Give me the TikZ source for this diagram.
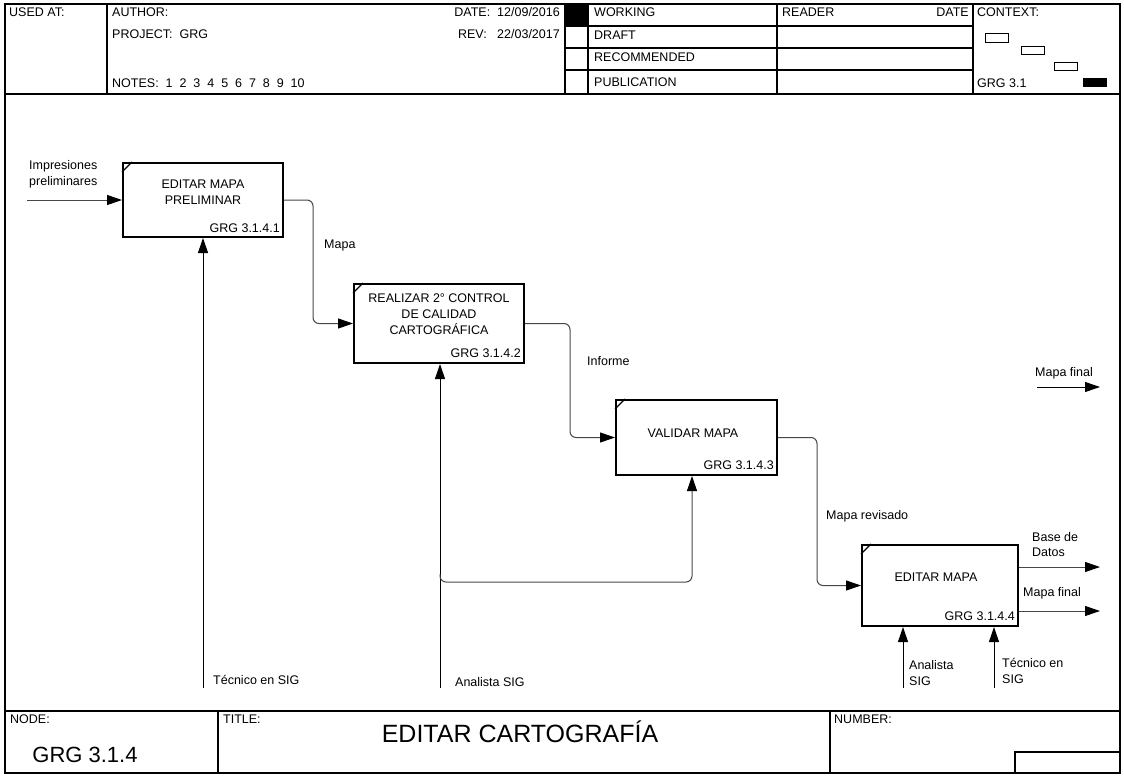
\documentclass[tikz,border=0pt]{standalone}
\usepackage{fontspec}
\setmainfont{Liberation Sans}
\usetikzlibrary{arrows.meta,calc}
\begin{document}
\begin{tikzpicture}[x=1pt,y=-1pt,
  frameline/.style={line width=1.3pt},
  txt/.style={anchor=base west, inner sep=0pt, font=\fontsize{12.5}{14}\selectfont},
  txtr/.style={anchor=base east, inner sep=0pt, font=\fontsize{12.5}{14}\selectfont},
  txtc/.style={anchor=base, inner sep=0pt, font=\fontsize{12.5}{14}\selectfont},
  procbox/.style={draw, line width=2pt, inner sep=0pt},
  tip/.style={-{Triangle[length=15pt,width=10pt,color=black]}},
  flow/.style={line width=1pt, draw=black!72, rounded corners=6pt, tip},
  mech/.style={line width=1pt, draw=black, tip},
  ctxbox/.style={draw, line width=0.8pt}
]
\useasboundingbox (0,0) rectangle (1124,776);
\fill[white] (0,0) rectangle (1124,776);

% ---------- frame ----------
\draw[frameline] (5,4) rectangle (1120,773);
\draw[frameline] (5,94) -- (1120,94);
\draw[frameline] (107,4) -- (107,94);
\draw[frameline] (565,4) -- (565,94);
\draw[frameline] (588,4) -- (588,94);
\draw[frameline] (777,4) -- (777,94);
\draw[frameline] (973,4) -- (973,94);
\foreach \yy in {26,48,70} \draw[frameline] (565,\yy) -- (973,\yy);
\fill (565,4) rectangle (588,26);

% context mini boxes
\draw[ctxbox] (985,33) rectangle (1008,42);
\draw[ctxbox] (1021,46) rectangle (1044,54);
\draw[ctxbox] (1054,62) rectangle (1077,70);
\fill (1083,78) rectangle (1107,87);

% header texts
\node[txt] (usedat) at (9,17) {USED AT:};
\node[txt] (author) at (112,17) {AUTHOR:};
\node[txt] (project) at (112,39) {PROJECT:\ \ GRG};
\node[txt] (notes) at (112,87) {NOTES:\ \ 1\ \ 2\ \ 3\ \ 4\ \ 5\ \ 6\ \ 7\ \ 8\ \ 9\ \ 10};
\node[txtr] (date) at (560,17) {DATE:\ \ 12/09/2016};
\node[txtr] (rev) at (560,39) {REV:\ \ \ 22/03/2017};
\node[txt] (working) at (594,17) {WORKING};
\node[txt] (draft) at (594,40) {DRAFT};
\node[txt] (recom) at (594,62) {RECOMMENDED};
\node[txt] (public) at (594,86) {PUBLICATION};
\node[txt] (reader) at (782,17) {READER};
\node[txtr] (rdate) at (969,17) {DATE};
\node[txt] (context) at (977,17) {CONTEXT:};
\node[txt] (ctxnum) at (977,87) {GRG 3.1};

% ---------- bottom block ----------
\draw[frameline] (5,711) -- (1120,711);
\draw[frameline] (218,711) -- (218,773);
\draw[frameline] (830,711) -- (830,773);
\draw[frameline] (1015,752) rectangle (1120,773);
\node[txt] (nodelbl) at (10,723) {NODE:};
\node[txt] (titlelbl) at (223,723) {TITLE:};
\node[txt] (numlbl) at (834,723) {NUMBER:};
\node[anchor=base, inner sep=0pt, font=\fontsize{25}{30}\selectfont] (title) at (520,742) {EDITAR CARTOGRAFÍA};
\node[anchor=base, inner sep=0pt, font=\fontsize{22}{26}\selectfont] (nodeid) at (85,762) {GRG 3.1.4};

% ---------- activity boxes ----------
\node[procbox, minimum width=160pt, minimum height=74pt] (b1) at (203,200) {};
\node[procbox, minimum width=170pt, minimum height=79pt] (b2) at (439,323.5) {};
\node[procbox, minimum width=161pt, minimum height=75pt] (b3) at (696.5,437.5) {};
\node[procbox, minimum width=156pt, minimum height=81pt] (b4) at (940,585.5) {};
\foreach \b in {b1,b2,b3,b4}
  \draw[line width=1.3pt] ([yshift=-10pt]\b.north west) -- ([xshift=10pt]\b.north west);

\node[txtc] (b1ta) at (203,188) {EDITAR MAPA};
\node[txtc] (b1tb) at (203,204) {PRELIMINAR};
\node[txtr] (b1n) at (280,232) {GRG 3.1.4.1};

\node[txtc] (b2ta) at (439,302) {REALIZAR 2° CONTROL};
\node[txtc] (b2tb) at (439,318) {DE CALIDAD};
\node[txtc] (b2tc) at (439,334) {CARTOGRÁFICA};
\node[txtr] (b2n) at (521,357) {GRG 3.1.4.2};

\node[txtc] (b3ta) at (693,437) {VALIDAR MAPA};
\node[txtr] (b3n) at (774,469) {GRG 3.1.4.3};

\node[txtc] (b4ta) at (936,581) {EDITAR MAPA};
\node[txtr] (b4n) at (1015,620) {GRG 3.1.4.4};

% ---------- connectors ----------
\coordinate (inA) at (27,200);
\draw[flow] (inA) -- (b1.west);
\node[txt] (lin1) at (29,169) {Impresiones};
\node[txt] (lin2) at (29,185) {preliminares};

\draw[flow] (b1.east) -- (b1.east -| 313,0) |- (b2.west);
\node[txt] (lmapa) at (324,248) {Mapa};

\draw[flow] (b2.east) -- (b2.east -| 570,0) |- (b3.west);
\node[txt] (linf) at (587,365) {Informe};

\draw[flow] (b3.east) -- (b3.east -| 817,0) |- (b4.west);
\node[txt] (lrev) at (826,519) {Mapa revisado};

% outputs
\coordinate (o1) at (1100,567);
\coordinate (o2) at (1100,611);
\draw[flow] (b4.east |- o1) -- (o1);
\draw[flow] (b4.east |- o2) -- (o2);
\node[txt] (lbd1) at (1032,541) {Base de};
\node[txt] (lbd2) at (1032,556) {Datos};
\node[txt] (lmf) at (1023,596) {Mapa final};

\coordinate (fA) at (1037,387);
\coordinate (fB) at (1100,387);
\draw[mech] (fA) -- (fB);
\node[txt] (lmf2) at (1035,376) {Mapa final};

% mechanisms
\coordinate (m1) at (203,688);
\draw[mech] (m1) -- (b1.south);
\node[txt] (lm1) at (213,684) {Técnico en SIG};

\coordinate (m2) at (440,688);
\draw[mech] (m2) -- (m2 |- b2.south);
\node[txt] (lm2) at (455,686) {Analista SIG};

\coordinate (br) at (440,582);
\coordinate (m3) at (692,582);
\draw[flow] ([yshift=8pt]br) -- (br) -- (m3) -- (m3 |- b3.south);

\coordinate (m4) at (903,688);
\coordinate (m5) at (994,688);
\draw[mech] (m4) -- (m4 |- b4.south);
\draw[mech] (m5) -- (m5 |- b4.south);
\node[txt] (lm4a) at (909,669) {Analista};
\node[txt] (lm4b) at (909,685) {SIG};
\node[txt] (lm5a) at (1002,667) {Técnico en};
\node[txt] (lm5b) at (1002,683) {SIG};
\end{tikzpicture}
\end{document}
